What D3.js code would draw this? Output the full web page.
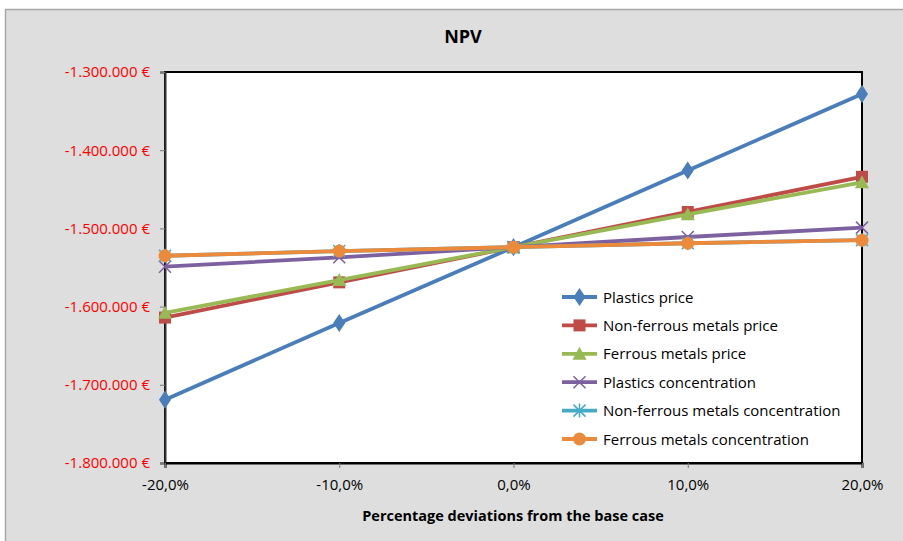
<!DOCTYPE html>
<html>
<head>
<meta charset="utf-8">
<script src="https://cdn.jsdelivr.net/npm/d3@7"></script>
<style>
  html, body { margin: 0; padding: 0; background: #ffffff; }
  svg { display: block; }
  text { font-family: "Open Sans", "DejaVu Sans Condensed", sans-serif; }
</style>
</head>
<body>
<svg id="chart" width="903" height="541"></svg>
<script>
// Percentage deviations from the base case
const deviations = [-0.20, -0.10, 0.00, 0.10, 0.20];
const xTickLabels = ["-20,0%", "-10,0%", "0,0%", "10,0%", "20,0%"];

// NPV values (€) per scenario
const plasticsPrice = [-1719000, -1621000, -1524000, -1426000, -1328000];
const nonFerrousPrice = [-1614000, -1569000, -1524000, -1479000, -1434000];
const ferrousPrice = [-1608000, -1566000, -1524000, -1482000, -1441000];
const plasticsConc = [-1549000, -1537000, -1524000, -1511000, -1499000];
const nonFerrousConc = [-1535000, -1529000, -1524000, -1519000, -1515000];
const ferrousConc = [-1535000, -1529000, -1524000, -1519000, -1515000];

const seriesNames = [
  "Plastics price",
  "Non-ferrous metals price",
  "Ferrous metals price",
  "Plastics concentration",
  "Non-ferrous metals concentration",
  "Ferrous metals concentration"
];
const yTicks = [-1300000, -1400000, -1500000, -1600000, -1700000, -1800000];

const series = [
  { name: seriesNames[0], values: plasticsPrice, color: "#4a7ebb", marker: "diamond" },
  { name: seriesNames[1], values: nonFerrousPrice, color: "#be4b48", marker: "square" },
  { name: seriesNames[2], values: ferrousPrice, color: "#98b954", marker: "triangle" },
  { name: seriesNames[3], values: plasticsConc, color: "#7d60a0", marker: "x" },
  { name: seriesNames[4], values: nonFerrousConc, color: "#46aac5", marker: "star" },
  { name: seriesNames[5], values: ferrousConc, color: "#ec8a3c", marker: "circle" }
];

const svg = d3.select("#chart");

// chart area background
svg.append("rect")
  .attr("x", 5.5).attr("y", 9.5)
  .attr("width", 905).attr("height", 540)
  .attr("fill", "#dedede")
  .attr("stroke", "#a6a6a6").attr("stroke-width", 1.5);

const plot = { left: 165, right: 862, top: 72, bottom: 463 };

const x = d3.scaleLinear().domain([-0.20, 0.20]).range([plot.left, plot.right]);
const y = d3.scaleLinear().domain([-1800000, -1300000]).range([plot.bottom, plot.top]);

// plot area
svg.append("rect")
  .attr("x", plot.left).attr("y", plot.top)
  .attr("width", plot.right - plot.left).attr("height", plot.bottom - plot.top)
  .attr("fill", "#ffffff")
  .attr("stroke", "#000000").attr("stroke-width", 2);

// title
svg.append("text")
  .attr("x", 463).attr("y", 43)
  .attr("text-anchor", "middle")
  .attr("font-size", 18).attr("font-weight", "bold")
  .text("NPV");

// y axis
const fmtY = v => {
  const s = Math.abs(v).toString().replace(/\B(?=(\d{3})+(?!\d))/g, ".");
  return (v < 0 ? "-" : "") + s + " €";
};
const yAxis = d3.axisLeft(y).tickValues(yTicks).tickFormat(fmtY).tickSize(5).tickPadding(10);
const gy = svg.append("g").attr("transform", `translate(${plot.left},0)`).call(yAxis);
gy.select(".domain").attr("stroke", "#333").attr("stroke-width", 2);
gy.selectAll(".tick line").attr("stroke", "#777");
gy.selectAll(".tick text").attr("fill", "#ff0000").attr("font-size", 15);

// x axis
const xAxis = d3.axisBottom(x).tickValues(deviations)
  .tickFormat((d, i) => xTickLabels[i]).tickSize(5).tickPadding(11);
const gx = svg.append("g").attr("transform", `translate(0,${plot.bottom})`).call(xAxis);
gx.select(".domain").attr("stroke", "#000").attr("stroke-width", 2);
gx.selectAll(".tick line").attr("stroke", "#777");
gx.selectAll(".tick text").attr("fill", "#000").attr("font-size", 15);

svg.append("text")
  .attr("x", 513).attr("y", 521)
  .attr("text-anchor", "middle")
  .attr("font-size", 14.5).attr("font-weight", "bold")
  .text("Percentage deviations  from the base case");

// markers
function drawMarker(g, type, cx, cy, color) {
  if (type === "diamond") {
    g.append("path").attr("d", d3.symbol(d3.symbolDiamond, 95)()).attr("transform", `translate(${cx},${cy}) scale(1.15,1)`).attr("fill", color);
  } else if (type === "square") {
    g.append("rect").attr("x", cx - 6).attr("y", cy - 6).attr("width", 12).attr("height", 12).attr("fill", color);
  } else if (type === "triangle") {
    g.append("path").attr("d", `M${cx},${cy - 7}L${cx + 7},${cy + 6}L${cx - 7},${cy + 6}Z`).attr("fill", color);
  } else if (type === "x") {
    g.append("path").attr("d", `M${cx - 6},${cy - 6}L${cx + 6},${cy + 6}M${cx - 6},${cy + 6}L${cx + 6},${cy - 6}`).attr("stroke", color).attr("stroke-width", 1.5);
  } else if (type === "star") {
    g.append("path").attr("d", `M${cx - 6},${cy - 6}L${cx + 6},${cy + 6}M${cx - 6},${cy + 6}L${cx + 6},${cy - 6}M${cx},${cy - 7}L${cx},${cy + 7}`).attr("stroke", color).attr("stroke-width", 1.5);
  } else if (type === "circle") {
    g.append("circle").attr("cx", cx).attr("cy", cy).attr("r", 6.5).attr("fill", color);
  }
}

const line = d3.line().x((d, i) => x(deviations[i])).y(d => y(d));

series.forEach(s => {
  const g = svg.append("g");
  g.append("path").datum(s.values)
    .attr("d", line)
    .attr("fill", "none")
    .attr("stroke", s.color)
    .attr("stroke-width", 3.8)
    .attr("stroke-linejoin", "round");
  s.values.forEach((v, i) => drawMarker(g, s.marker, x(deviations[i]), y(v), s.color));
});

// legend
const legend = svg.append("g");
series.forEach((s, i) => {
  const ly = 297 + i * 28.4;
  const lg = legend.append("g");
  lg.append("line").attr("x1", 562).attr("x2", 597).attr("y1", ly).attr("y2", ly)
    .attr("stroke", s.color).attr("stroke-width", 3.8);
  drawMarker(lg, s.marker, 579.5, ly, s.color);
  lg.append("text").attr("x", 603).attr("y", ly + 5.5)
    .attr("font-size", 15).attr("fill", "#000").text(s.name);
});
</script>
</body>
</html>
